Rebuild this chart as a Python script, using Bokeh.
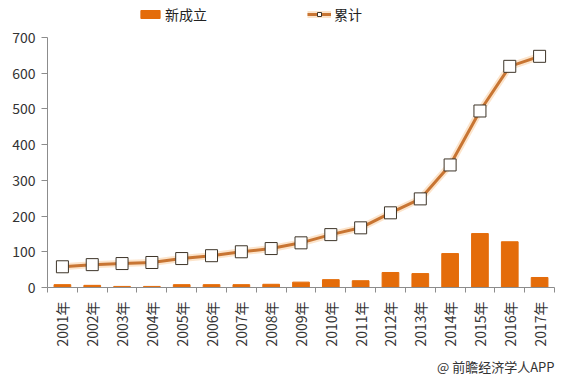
from bokeh.plotting import figure
from bokeh.models import (ColumnDataSource, FixedTicker, Legend, LegendItem, Title,
                          Range1d)
from bokeh.embed import file_html
from bokeh.resources import INLINE
import math

years = ["2001年", "2002年", "2003年", "2004年", "2005年", "2006年", "2007年", "2008年",
         "2009年", "2010年", "2011年", "2012年", "2013年", "2014年", "2015年", "2016年", "2017年"]
new_est = [8, 6, 3, 3, 8, 8, 8, 9, 15, 22, 19, 42, 39, 95, 151, 128, 28]
cumulative = [58, 64, 67, 70, 81, 89, 100, 109, 125, 148, 167, 209, 248, 343, 494, 619, 647]
y_ticks = [0, 100, 200, 300, 400, 500, 600, 700]

idx = list(range(1, len(years) + 1))
src = ColumnDataSource(dict(x=idx, bar=new_est, cum=cumulative))

FONT = "Noto Sans CJK SC"
# frame extends above the 700 tick so the legend can sit inside it
y_max = 700
y_top = y_max * 283 / 251
p = figure(width=563, height=380, output_backend="svg", toolbar_location=None,
           x_range=Range1d(0.5, len(years) + 0.5), y_range=Range1d(0, y_top),
           min_border_left=47, min_border_right=9, min_border_top=5, min_border_bottom=92)
p.outline_line_color = None
p.grid.grid_line_color = None
p.background_fill_color = "white"

bars = p.vbar(x="x", top="bar", width=0.56, source=src, color="#E46C0A")
glow = p.line(x="x", y="cum", source=src, line_color="#F7B26A", line_width=7, line_alpha=0.35)
ln = p.line(x="x", y="cum", source=src, line_color="#C87533", line_width=3)
mk = p.scatter(x="x", y="cum", source=src, marker="square", size=12,
               fill_color="white", line_color="#3d3428", line_width=1)

# axes
p.yaxis.ticker = FixedTicker(ticks=y_ticks)
p.yaxis.bounds = (0, y_max)
p.yaxis.axis_line_color = "#8c8c8c"
p.yaxis.major_tick_line_color = "#8c8c8c"
p.yaxis.major_tick_out = 6
p.yaxis.major_tick_in = 0
p.yaxis.minor_tick_line_color = None
p.yaxis.major_label_text_font = FONT
p.yaxis.major_label_text_font_size = "14px"
p.yaxis.major_label_text_color = "#333333"
p.yaxis.major_label_standoff = 6

p.xaxis.ticker = FixedTicker(ticks=idx, minor_ticks=[i + 0.5 for i in range(0, len(years) + 1)])
p.xaxis.major_label_overrides = {i: y for i, y in zip(idx, years)}
p.xaxis.major_label_orientation = math.pi / 2
p.xaxis.major_tick_line_color = None
p.xaxis.minor_tick_line_color = "#8c8c8c"
p.xaxis.minor_tick_out = 5
p.xaxis.minor_tick_in = 0
p.xaxis.axis_line_color = "#8c8c8c"
p.xaxis.major_label_text_font = FONT
p.xaxis.major_label_text_font_size = "14px"
p.xaxis.major_label_text_color = "#333333"
p.xaxis.major_label_standoff = 8

legend = Legend(items=[LegendItem(label="新成立", renderers=[bars]),
                       LegendItem(label="累计", renderers=[glow, ln, mk])],
                orientation="horizontal", location=(91, 263),
                label_text_font=FONT, label_text_font_size="14px",
                label_text_color="#222222", glyph_width=24, glyph_height=10,
                label_standoff=3, spacing=100, padding=0, margin=0,
                background_fill_alpha=0, border_line_color=None)
p.add_layout(legend, "center")

credit = Title(text="@ 前瞻经济学人APP", align="right", text_font=FONT,
               text_font_size="13px", text_font_style="normal", text_color="#333333")
p.add_layout(credit, "below")

open("out.html", "w").write(file_html(p, INLINE))
